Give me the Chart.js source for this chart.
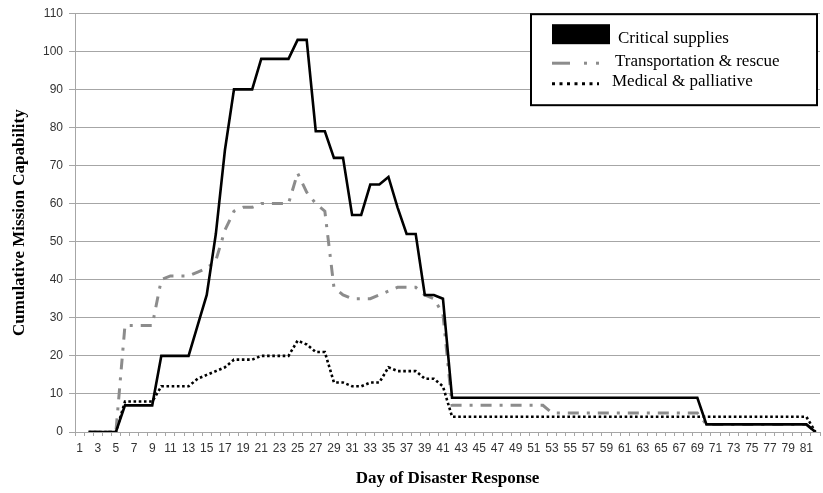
<!DOCTYPE html>
<html>
<head>
<meta charset="utf-8">
<script src="https://cdn.jsdelivr.net/npm/chart.js@4"></script>
<style>
  html, body { margin: 0; padding: 0; background: #fff; }
  #wrap { position: relative; width: 823px; height: 493px; }
</style>
</head>
<body>
<div id="wrap"><canvas id="myChart"></canvas></div>
<script>
// day 1 .. 82 of the response
const days = [];
for (let d = 1; d <= 82; d++) days.push(String(d));

const critical = [null, 0, 0, 0, 0, 7, 7, 7, 7, 20,
  20, 20, 20, 28, 36, 52, 74, 90, 90, 90,
  98, 98, 98, 98, 103, 103, 79, 79, 72, 72,
  57, 57, 65, 65, 67, 59, 52, 52, 36, 36,
  35, 9, 9, 9, 9, 9, 9, 9, 9, 9,
  9, 9, 9, 9, 9, 9, 9, 9, 9, 9,
  9, 9, 9, 9, 9, 9, 9, 9, 9, 2,
  2, 2, 2, 2, 2, 2, 2, 2, 2, 2,
  2, 0];

const transport = [null, 0, 0, 0, 0, 28, 28, 28, 28, 40,
  41, 41, 41, 42, 43, 45, 53, 58, 59, 59,
  60, 60, 60, 60, 68, 63, 60, 58, 38, 36,
  35, 35, 35, 36, 37, 38, 38, 38, 36, 35,
  31, 7, 7, 7, 7, 7, 7, 7, 7, 7,
  7, 7, 5, 5, 5, 5, 5, 5, 5, 5,
  5, 5, 5, 5, 5, 5, 5, 5, 5, 2,
  2, 2, 2, 2, 2, 2, 2, 2, 2, 2,
  2, 0];

const medical = [null, 0, 0, 0, 0, 8, 8, 8, 8, 12,
  12, 12, 12, 14, 15, 16, 17, 19, 19, 19,
  20, 20, 20, 20, 24, 23, 21, 21, 13, 13,
  12, 12, 13, 13, 17, 16, 16, 16, 14, 14,
  12, 4, 4, 4, 4, 4, 4, 4, 4, 4,
  4, 4, 4, 4, 4, 4, 4, 4, 4, 4,
  4, 4, 4, 4, 4, 4, 4, 4, 4, 4,
  4, 4, 4, 4, 4, 4, 4, 4, 4, 4,
  4, 0];

const seriesNames = ["Critical supplies", "Transportation & rescue", "Medical & palliative"];
const yMax = 110;
const yStep = 10;

const gridGray = "#a6a6a6";
const tickFont = { family: "'Liberation Sans', Arial, sans-serif", size: 12 };
const serif = "'Liberation Serif', 'Times New Roman', serif";

// legend box in the top right corner, drawn on the canvas
const boxLegend = {
  id: "boxLegend",
  afterDraw(chart) {
    const ctx = chart.ctx;
    const a = chart.chartArea;
    const left = a.right - 289, top = a.top + 1;
    ctx.save();
    ctx.fillStyle = "#fff";
    ctx.fillRect(left, top, 286, 91);
    ctx.strokeStyle = "#000";
    ctx.lineWidth = 2;
    ctx.strokeRect(left, top, 286, 91);

    // critical: big black block
    ctx.fillStyle = "#000";
    ctx.fillRect(left + 21, top + 10, 58, 20);

    // transport: dash + two dots
    ctx.fillStyle = "#8c8c8c";
    ctx.fillRect(left + 21, top + 47.5, 18, 3);
    ctx.fillRect(left + 53, top + 47.5, 3, 3);
    ctx.fillRect(left + 65, top + 47.5, 3, 3);

    // medical: dotted
    ctx.strokeStyle = "#000";
    ctx.lineWidth = 3;
    ctx.setLineDash([3, 4.5]);
    ctx.beginPath();
    ctx.moveTo(left + 21, top + 69.5);
    ctx.lineTo(left + 68, top + 69.5);
    ctx.stroke();
    ctx.setLineDash([]);

    ctx.fillStyle = "#000";
    ctx.font = "17px " + serif;
    ctx.textBaseline = "middle";
    ctx.fillText(seriesNames[0], left + 87, top + 24);
    ctx.fillText(seriesNames[1], left + 84, top + 47);
    ctx.fillText(seriesNames[2], left + 81, top + 67);
    ctx.restore();
  }
};

const ctx = document.getElementById("myChart").getContext("2d");
new Chart(ctx, {
  type: "line",
  data: {
    labels: days,
    datasets: [
      {
        label: seriesNames[0],
        data: critical,
        borderColor: "#000",
        borderWidth: 2.6,
        pointRadius: 0,
        tension: 0,
      },
      {
        label: seriesNames[1],
        data: transport,
        borderColor: "#8c8c8c",
        borderWidth: 3,
        borderDash: [11, 8, 3, 8],
        pointRadius: 0,
        tension: 0,
      },
      {
        label: seriesNames[2],
        data: medical,
        borderColor: "#000",
        borderWidth: 2.6,
        borderDash: [2.6, 2.6],
        pointRadius: 0,
        tension: 0,
      },
    ],
  },
  options: {
    responsive: true,
    maintainAspectRatio: false,
    animation: false,
    layout: { padding: { top: 12, right: 3, left: 0, bottom: 0 } },
    plugins: {
      legend: { display: false },
      tooltip: { enabled: false },
    },
    scales: {
      x: {
        offset: true,
        grid: {
          offset: true,
          drawOnChartArea: false,
          drawTicks: true,
          tickLength: 4,
          color: gridGray,
        },
        border: { color: gridGray },
        ticks: {
          autoSkip: false,
          maxRotation: 0,
          padding: 5,
          color: "#333",
          font: tickFont,
          callback: function (v, i) {
            return i % 2 === 0 ? days[i] : "";
          },
        },
        title: {
          display: true,
          text: "Day of Disaster Response",
          color: "#000",
          font: { family: serif, size: 17, weight: "bold" },
          padding: { top: 4, bottom: 4 },
        },
        afterFit: (s) => { s.height = 61; },
      },
      y: {
        min: 0,
        max: yMax,
        ticks: {
          stepSize: yStep,
          padding: 6,
          color: "#333",
          font: tickFont,
        },
        grid: {
          color: gridGray,
          tickLength: 6,
        },
        border: { color: gridGray },
        title: {
          display: true,
          text: "Cumulative Mission Capability",
          color: "#000",
          font: { family: serif, size: 17, weight: "bold" },
          padding: { top: 9, bottom: 4 },
        },
        afterFit: (s) => { s.width = 75; },
      },
    },
  },
  plugins: [boxLegend],
});
</script>
</body>
</html>
